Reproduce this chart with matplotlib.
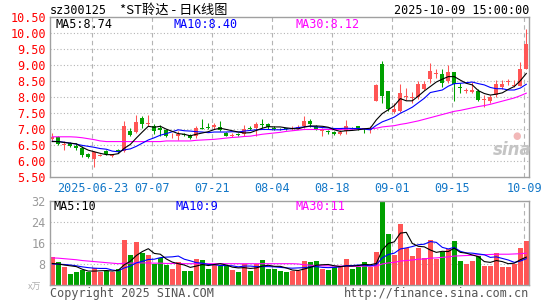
import matplotlib
matplotlib.use("Agg")
import matplotlib.pyplot as plt

W, H = 545, 300
MONO = "DejaVu Sans Mono"
CJK = ["Noto Sans CJK SC", "DejaVu Sans"]
RED = "#ff5555"
GREEN = "#00a000"
GRID = "#b4b4b4"

dates = ["2025-06-23", "07-07", "07-21", "08-04", "08-18", "09-01", "09-15", "10-09"]
date_idx = [7, 17, 27, 37, 47, 57, 67, 79]
price_ticks = [5.5, 6.0, 6.5, 7.0, 7.5, 8.0, 8.5, 9.0, 9.5, 10.0, 10.5]
vol_ticks = [8, 16, 24, 32]

opens = [6.69, 6.75, 6.49, 6.55, 6.47, 6.40, 6.20, 6.05, 6.16, 6.30,
         6.15, 6.34, 6.30, 6.93, 6.90, 7.35, 7.15, 7.09, 7.03, 6.96,
         6.76, 6.78, 6.84, 6.82, 6.77, 7.02, 7.05, 7.05, 7.05, 6.88,
         6.79, 6.83, 6.83, 7.04, 7.03, 7.14, 7.14, 7.04, 6.99, 7.00,
         6.99, 7.01, 7.08, 7.25, 7.10, 6.93, 6.93, 6.90, 6.84, 6.92,
         7.04, 7.08, 7.00, 6.97, 7.89, 9.03, 8.19, 7.53, 7.56, 8.00,
         7.98, 8.01, 8.24, 8.56, 8.73, 8.72, 8.51, 8.77, 8.30, 8.19,
         8.17, 8.19, 7.91, 7.87, 8.05, 8.30, 8.46, 8.36, 8.35, 8.87]
highs = [6.87, 6.78, 6.61, 6.58, 6.56, 6.45, 6.25, 6.30, 6.22, 6.33,
         6.21, 6.37, 7.24, 7.02, 7.45, 7.40, 7.45, 7.16, 7.12, 6.98,
         6.86, 6.93, 6.86, 6.85, 7.08, 7.31, 7.18, 7.18, 7.25, 6.91,
         6.88, 6.86, 7.11, 7.08, 7.22, 7.32, 7.19, 7.08, 7.03, 7.02,
         7.08, 7.11, 7.40, 7.32, 7.13, 7.04, 6.95, 6.92, 6.96, 7.29,
         7.06, 7.10, 7.04, 7.08, 8.40, 9.14, 8.19, 7.80, 8.40, 8.29,
         8.15, 8.50, 8.50, 9.08, 8.88, 8.88, 9.01, 8.79, 8.43, 8.27,
         8.48, 8.26, 8.05, 8.05, 8.53, 8.53, 8.58, 8.53, 9.11, 10.14]
lows = [6.62, 6.50, 6.33, 6.42, 6.34, 6.13, 6.08, 5.79, 6.14, 6.19,
        6.13, 6.24, 6.26, 6.78, 6.88, 7.02, 7.10, 6.84, 6.77, 6.75,
        6.71, 6.65, 6.78, 6.68, 6.70, 6.98, 6.99, 7.01, 6.92, 6.77,
        6.74, 6.76, 6.78, 6.95, 6.78, 7.04, 7.01, 6.96, 6.95, 6.97,
        6.96, 6.99, 7.04, 7.06, 6.96, 6.78, 6.85, 6.82, 6.81, 6.83,
        6.98, 6.96, 6.86, 6.88, 7.87, 7.82, 7.56, 7.50, 7.53, 7.92,
        7.82, 7.93, 8.21, 8.45, 8.60, 8.30, 8.45, 7.89, 8.12, 8.14,
        8.12, 7.88, 7.69, 7.82, 8.01, 8.24, 8.37, 8.30, 8.33, 8.87]
closes = [6.75, 6.53, 6.52, 6.45, 6.40, 6.19, 6.11, 6.26, 6.19, 6.21,
          6.18, 6.27, 7.10, 6.80, 7.20, 7.14, 7.18, 6.92, 6.95, 6.78,
          6.78, 6.84, 6.80, 6.71, 7.03, 6.99, 7.02, 7.13, 6.95, 6.79,
          6.81, 6.81, 7.01, 6.99, 7.15, 7.13, 7.07, 6.98, 6.98, 6.99,
          7.01, 7.06, 7.25, 7.14, 6.98, 6.98, 6.90, 6.84, 6.91, 7.08,
          7.00, 7.03, 6.99, 7.00, 8.37, 8.03, 7.61, 7.63, 8.12, 8.02,
          8.00, 8.40, 8.40, 8.82, 8.75, 8.45, 8.79, 8.40, 8.27, 8.22,
          8.22, 7.91, 7.93, 8.01, 8.40, 8.40, 8.48, 8.38, 8.89, 9.66]

ma5 = [6.60, 6.60, 6.57, 6.55, 6.53, 6.42, 6.33, 6.28, 6.23, 6.19,
       6.19, 6.22, 6.39, 6.51, 6.71, 6.90, 7.08, 7.05, 7.08, 6.99,
       6.92, 6.85, 6.83, 6.78, 6.83, 6.87, 6.91, 6.98, 7.02, 6.98,
       6.94, 6.90, 6.87, 6.88, 6.95, 7.02, 7.07, 7.06, 7.06, 7.03,
       7.01, 7.00, 7.06, 7.09, 7.09, 7.08, 7.05, 6.97, 6.92, 6.94,
       6.95, 6.97, 7.00, 7.02, 7.28, 7.48, 7.60, 7.73, 7.95, 7.88,
       7.88, 8.03, 8.19, 8.33, 8.47, 8.56, 8.64, 8.64, 8.53, 8.43,
       8.38, 8.20, 8.11, 8.06, 8.09, 8.13, 8.24, 8.33, 8.51, 8.74]
ma10 = [6.61, 6.60, 6.58, 6.55, 6.52, 6.48, 6.45, 6.42, 6.38, 6.36,
        6.30, 6.28, 6.34, 6.37, 6.45, 6.55, 6.65, 6.72, 6.80, 6.85,
        6.91, 6.97, 6.94, 6.93, 6.91, 6.90, 6.88, 6.90, 6.90, 6.90,
        6.91, 6.90, 6.93, 6.95, 6.97, 6.98, 6.98, 6.97, 6.97, 6.99,
        7.01, 7.04, 7.06, 7.08, 7.06, 7.04, 7.03, 7.01, 7.01, 7.02,
        7.01, 7.01, 6.99, 6.97, 7.11, 7.22, 7.29, 7.37, 7.49, 7.58,
        7.68, 7.82, 7.96, 8.14, 8.18, 8.22, 8.34, 8.42, 8.43, 8.45,
        8.47, 8.42, 8.38, 8.30, 8.26, 8.26, 8.22, 8.22, 8.28, 8.40]
ma30 = [6.75, 6.75, 6.75, 6.75, 6.74, 6.72, 6.69, 6.66, 6.62, 6.60,
        6.60, 6.60, 6.60, 6.60, 6.60, 6.60, 6.60, 6.60, 6.60, 6.62,
        6.62, 6.62, 6.62, 6.62, 6.64, 6.65, 6.66, 6.67, 6.69, 6.71,
        6.73, 6.74, 6.76, 6.77, 6.80, 6.83, 6.85, 6.87, 6.89, 6.92,
        6.94, 6.96, 6.98, 6.98, 6.98, 6.98, 6.98, 6.98, 6.98, 6.99,
        6.99, 6.99, 7.00, 7.00, 7.02, 7.06, 7.08, 7.10, 7.14, 7.17,
        7.21, 7.25, 7.30, 7.35, 7.40, 7.45, 7.50, 7.55, 7.58, 7.62,
        7.66, 7.70, 7.73, 7.77, 7.82, 7.87, 7.92, 7.97, 8.04, 8.12]

# volume, 10k lots
volumes = [10.8, 8.7, 6.8, 4.4, 4.9, 5.9, 4.9, 6.7, 4.9, 5.6,
           4.9, 6.2, 17.3, 11.6, 16.6, 12.3, 11.6, 8.2, 10.4, 7.6,
           6.3, 8.7, 5.6, 5.6, 10.1, 9.7, 6.3, 7.6, 7.5, 7.2,
           5.9, 4.9, 8.2, 5.6, 8.2, 9.7, 6.3, 6.3, 5.5, 5.2,
           5.5, 5.5, 9.3, 8.7, 9.1, 6.3, 5.9, 6.8, 7.4, 10.1,
           6.3, 6.9, 8.7, 6.9, 12.5, 32.5, 19.6, 11.6, 23.4, 14.0,
           11.0, 14.2, 10.3, 17.3, 9.8, 12.8, 13.7, 17.0, 9.1, 8.2,
           9.3, 11.0, 7.4, 7.4, 12.1, 7.1, 7.1, 8.2, 14.2, 17.0]
vma5 = [8.3, 8.1, 7.7, 7.4, 7.1, 6.1, 5.4, 5.4, 5.5, 5.6,
        5.4, 5.7, 7.8, 9.1, 11.3, 12.8, 13.9, 12.1, 11.8, 10.0,
        8.8, 8.2, 7.7, 6.8, 7.3, 7.9, 7.5, 7.9, 8.2, 7.7,
        6.9, 6.6, 6.7, 6.4, 6.6, 7.3, 7.6, 7.2, 7.2, 6.6,
        5.8, 5.6, 6.2, 6.8, 7.6, 7.8, 7.9, 7.4, 7.1, 7.3,
        7.3, 7.5, 7.9, 7.8, 8.3, 13.4, 15.9, 16.5, 19.8, 20.1,
        15.9, 14.8, 14.6, 13.4, 12.5, 12.9, 12.8, 14.1, 12.5, 12.2,
        11.5, 10.9, 9.0, 8.7, 9.4, 9.0, 8.2, 8.4, 9.7, 10.7]
vma10 = [8.1, 8.0, 7.9, 7.7, 7.4, 7.0, 6.7, 6.5, 6.4, 6.4,
         5.8, 5.5, 6.6, 7.3, 8.5, 9.1, 9.8, 9.9, 10.5, 10.7,
         10.8, 11.1, 9.9, 9.3, 8.6, 8.4, 7.9, 7.8, 7.5, 7.5,
         7.4, 7.0, 7.3, 7.3, 7.1, 7.1, 7.1, 7.0, 6.8, 6.6,
         6.5, 6.6, 6.7, 7.0, 7.1, 6.8, 6.7, 6.8, 7.0, 7.5,
         7.5, 7.7, 7.6, 7.4, 7.8, 10.4, 11.7, 12.2, 13.8, 14.2,
         14.7, 15.4, 15.6, 16.6, 16.3, 14.4, 13.8, 14.4, 12.9, 12.3,
         12.2, 11.9, 11.6, 10.6, 10.8, 10.2, 9.6, 8.7, 9.2, 10.1]
vma30 = [10.4, 10.3, 10.1, 9.9, 9.7, 9.4, 9.2, 9.0, 8.8, 8.6,
         8.4, 8.2, 8.4, 8.4, 8.5, 8.5, 8.5, 8.4, 8.4, 8.3,
         8.3, 8.3, 8.2, 8.2, 8.2, 8.2, 8.2, 8.2, 8.2, 8.2,
         8.2, 8.2, 8.2, 8.2, 8.2, 8.2, 8.2, 8.2, 8.2, 8.2,
         8.2, 8.1, 7.8, 7.6, 7.5, 7.4, 7.4, 7.3, 7.3, 7.2,
         7.2, 7.2, 7.3, 7.3, 7.3, 8.1, 8.5, 8.7, 9.2, 9.4,
         9.6, 9.9, 10.0, 10.3, 10.4, 10.6, 10.8, 11.1, 11.2, 11.3,
         11.4, 11.6, 11.6, 11.7, 11.8, 11.8, 11.8, 11.9, 12.0, 12.2]

x = list(range(len(closes)))
colors = [RED if c >= o else GREEN for o, c in zip(opens, closes)]


def fx(px):
    return px / W


def fy(py):
    return 1 - py / H


fig = plt.figure(figsize=(W / 100, H / 100), dpi=100)
fig.patch.set_facecolor("white")

ax = fig.add_axes([fx(50), fy(176.6), 479 / W, (176.6 - 17.4) / H])
axv = fig.add_axes([fx(50), fy(285.3), 479 / W, (285.3 - 201) / H])

for a in (ax, axv):
    a.set_xlim(-0.383, 79.45)
    for s in a.spines.values():
        s.set_color("#a0a0a0")
        s.set_linewidth(1.0)
    for i in date_idx:
        a.axvline(i - 0.33, color=GRID, lw=0.8, ls=(0, (4, 3)), zorder=0)

# price panel
ax.set_ylim(5.5, 10.5)
for v in price_ticks[1:-1]:
    ax.axhline(v, color=GRID, lw=0.8, ls=(0, (1, 2)), zorder=0)

ax.vlines(x, lows, highs, colors=colors, lw=0.75, zorder=2)
bodies = [max(abs(c - o), 0.03) for o, c in zip(opens, closes)]
bottoms = [min(o, c) for o, c in zip(opens, closes)]
ax.bar(x, bodies, bottom=bottoms, width=0.72, color=colors, linewidth=0, zorder=2)

ax.plot(x, ma30, color="#ff00ff", lw=0.8, zorder=3)
ax.plot(x, ma10, color="#0000ff", lw=0.8, zorder=3)
ax.plot(x, ma5, color="black", lw=0.8, zorder=3)

ax.set_yticks(price_ticks)
ax.set_yticklabels([f"{v:.2f}" for v in price_ticks], family=MONO, fontsize=8.5)
ax.tick_params(axis="y", length=0, pad=3, labelcolor="red")
ax.set_xticks([i - 0.33 for i in date_idx])
ax.set_xticklabels(dates, family=MONO, fontsize=8.5)
ax.tick_params(axis="x", length=0, pad=4, labelcolor="#1478c8")

# volume panel
axv.set_ylim(0, 32)
for v in vol_ticks[:-1]:
    axv.axhline(v, color=GRID, lw=0.8, ls=(0, (1, 2)), zorder=0)
axv.bar(x, volumes, width=0.82, color=colors, linewidth=0, zorder=2)
axv.plot(x, vma30, color="#ff00ff", lw=0.8, zorder=3)
axv.plot(x, vma10, color="#0000ff", lw=0.8, zorder=3)
axv.plot(x, vma5, color="black", lw=0.8, zorder=3)
axv.set_yticks(vol_ticks)
axv.set_yticklabels([str(v) for v in vol_ticks], family=MONO, fontsize=8.5)
axv.tick_params(axis="y", length=0, pad=3, labelcolor="#9a9a9a")
axv.set_xticks([])

# header texts
fig.text(fx(50), fy(10), "sz300125", family=MONO, fontsize=8.5, va="center")
fig.text(fx(120), fy(10), "*ST聆达 - 日K线图", family=CJK, fontsize=9.5, va="center")
fig.text(fx(529), fy(10), "2025-10-09 15:00:00", family=MONO, fontsize=8.5,
         va="center", ha="right")

fig.text(fx(55), fy(24.5), "MA5:8.74", family=MONO, fontsize=8.5, va="center", color="black")
fig.text(fx(174), fy(24.5), "MA10:8.40", family=MONO, fontsize=8.5, va="center", color="#0000ff")
fig.text(fx(295), fy(24.5), "MA30:8.12", family=MONO, fontsize=8.5, va="center", color="#ff00ff")

fig.text(fx(54), fy(207), "MA5:10", family=MONO, fontsize=8.5, va="center", color="black")
fig.text(fx(175), fy(207), "MA10:9", family=MONO, fontsize=8.5, va="center", color="#0000ff")
fig.text(fx(295), fy(207), "MA30:11", family=MONO, fontsize=8.5, va="center", color="#ff00ff")

fig.text(fx(28), fy(287), "x万", family=CJK, fontsize=6.5, va="center", color="#b0b0b0")
fig.text(fx(50), fy(293), "Copyright 2025 SINA.COM", family=MONO, fontsize=8.5,
         va="center", color="#555555")
fig.text(fx(529), fy(293), "http://finance.sina.com.cn", family=MONO, fontsize=8.5,
         va="center", ha="right", color="#555555")

# sina watermark
fig.text(fx(512), fy(150), "sina", fontsize=12, style="italic", weight="bold",
         ha="center", va="center", color="#c4c4c4")
fig.text(fx(517), fy(136), "●", fontsize=7, ha="center", va="center", color="#f2b8b8")

fig.savefig("out.png", dpi=100)
